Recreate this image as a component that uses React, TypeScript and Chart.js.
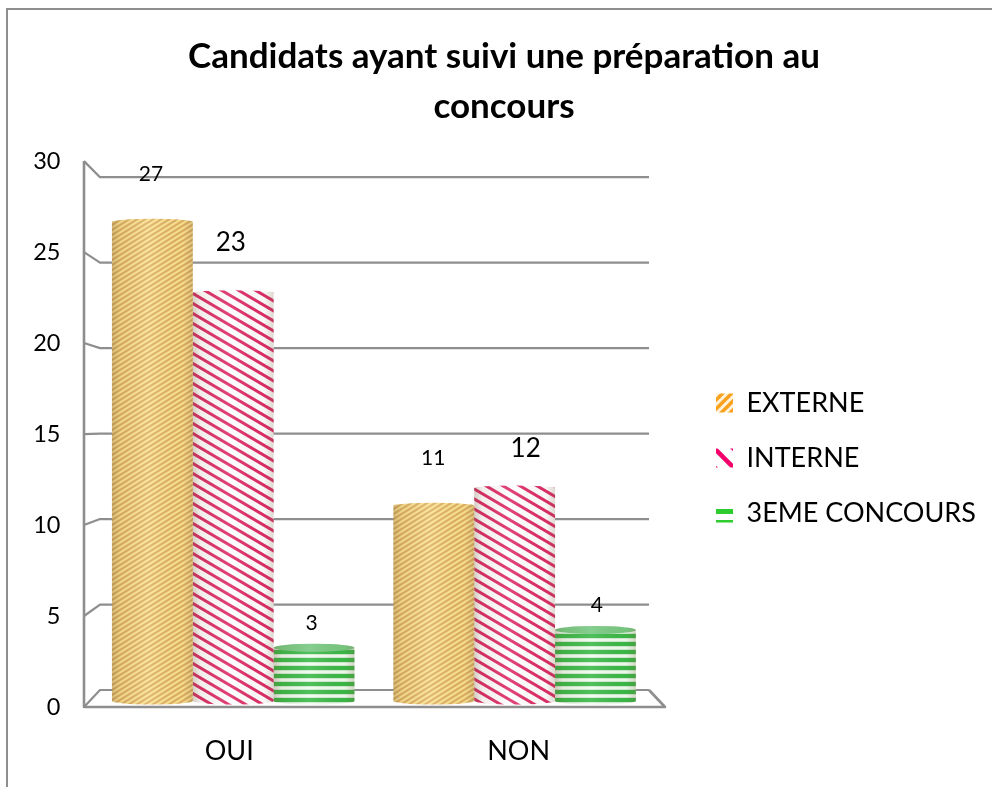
import React, { useEffect, useRef } from "react";
import { Chart, registerables } from "chart.js";

Chart.register(...registerables);

const categories = ["OUI", "NON"];
const externe = [27, 11];
const interne = [23, 12];
const troisieme = [3, 4];
const seriesNames = ["EXTERNE", "INTERNE", "3EME CONCOURS"];
const titleLines = ["Candidats ayant suivi une préparation au", "concours"];
const FONT = "Lato, Carlito, sans-serif";
const GREY = "#8e8e8e";

// per-label display tweaks: [series][category]
const labelShift = [
  [[-1.5, -48], [-0.5, -48]],
  [[-2.5, -50], [11, -39]],
  [[-2.5, -25], [1.5, -25]],
];
const labelSize = [
  [21, 21],
  [26, 26],
  [21, 21],
];

type StripeKind = "up" | "down" | "flat";

function stripes(kind: StripeKind, w: number, h: number, base: string, ink: string, thick: number) {
  const c = document.createElement("canvas");
  c.width = w;
  c.height = h;
  const g = c.getContext("2d")!;
  g.fillStyle = base;
  g.fillRect(0, 0, w, h);
  g.strokeStyle = ink;
  g.lineWidth = thick;
  if (kind === "flat") {
    g.beginPath();
    g.moveTo(0, h / 2);
    g.lineTo(w, h / 2);
    g.stroke();
  } else {
    for (let k = -1; k <= 1; k++) {
      g.beginPath();
      if (kind === "up") {
        g.moveTo(k * w - w, 2 * h);
        g.lineTo(k * w + 2 * w, -h);
      } else {
        g.moveTo(k * w - w, -h);
        g.lineTo(k * w + 2 * w, 2 * h);
      }
      g.stroke();
    }
  }
  return g.createPattern(c, "repeat")!;
}

const App = () => {
  const ref = useRef<HTMLCanvasElement | null>(null);
  useEffect(() => {
    const canvas = ref.current!;
    const ctx0 = canvas.getContext("2d")!;
    const fills = [
      stripes("up", 8, 5, "#fbe28f", "#dcae62", 2),
      stripes("down", 17, 10, "#ffffff", "#dc2a68", 3),
      stripes("flat", 4, 8, "#f2fbf2", "#38b846", 4.4),
    ];
    const legendFills = [
      stripes("up", 9, 9, "#fff3df", "#f9a11b", 3.4),
      stripes("down", 19, 19, "#ffffff", "#f5006a", 4.5),
      stripes("flat", 11, 11, "#ffffff", "#2ecc2e", 5),
    ];
    const capColours = [fills[0], fills[1], "#76c881"];
    const capHeight = [3, 2.5, 4];

    const cylinder = {
      id: "cylinder",
      beforeDraw(chart: any) {
        const { ctx, width, height } = chart;
        ctx.save();
        ctx.fillStyle = "#fff";
        ctx.fillRect(0, 0, width, height);
        ctx.strokeStyle = GREY;
        ctx.lineWidth = 2;
        ctx.beginPath();
        ctx.moveTo(7, height);
        ctx.lineTo(7, 9);
        ctx.lineTo(width, 9);
        ctx.stroke();
        ctx.restore();
      },
      beforeDatasetsDraw(chart: any) {
        const { ctx, scales } = chart;
        const front = scales.y;
        const back = scales.yBack;
        const xFront = 84;
        const xBack = 100;
        const xBackEnd = 649;
        const xFrontEnd = 665;
        ctx.save();
        ctx.strokeStyle = GREY;
        ctx.lineJoin = "round";
        [0, 5, 10, 15, 20, 25, 30].forEach((v) => {
          const yb = back.getPixelForValue(v);
          ctx.lineWidth = 2.2;
          ctx.beginPath();
          ctx.moveTo(xFront, front.getPixelForValue(v));
          ctx.lineTo(xBack, yb);
          ctx.lineTo(xBackEnd, yb);
          ctx.stroke();
        });
        const yF = front.getPixelForValue(0);
        const yB = back.getPixelForValue(0);
        ctx.lineWidth = 2.6;
        ctx.beginPath();
        ctx.moveTo(xFront, front.getPixelForValue(30));
        ctx.lineTo(xFront, yF);
        ctx.lineTo(xFrontEnd, yF);
        ctx.lineTo(xBackEnd, yB);
        ctx.stroke();

        chart.data.datasets.forEach((_: any, i: number) => {
          chart.getDatasetMeta(i).data.forEach((bar: any) => {
            ctx.fillStyle = fills[i];
            ctx.beginPath();
            ctx.ellipse(bar.x, bar.base, bar.width / 2, 3.5, 0, 0, Math.PI * 2);
            ctx.fill();
          });
        });
        ctx.restore();
      },
      afterDatasetsDraw(chart: any) {
        const { ctx } = chart;
        ctx.save();
        chart.data.datasets.forEach((ds: any, i: number) => {
          chart.getDatasetMeta(i).data.forEach((bar: any, j: number) => {
            const l = bar.x - bar.width / 2;
            const r = bar.x + bar.width / 2;
            ctx.fillStyle = capColours[i];
            ctx.beginPath();
            ctx.ellipse(bar.x, bar.y, bar.width / 2, capHeight[i], 0, 0, Math.PI * 2);
            ctx.fill();
            const shade = ctx.createLinearGradient(l, 0, r, 0);
            shade.addColorStop(0, "rgba(120,90,60,0.3)");
            shade.addColorStop(0.1, "rgba(120,90,60,0.1)");
            shade.addColorStop(0.45, "rgba(255,255,255,0.12)");
            shade.addColorStop(0.88, "rgba(120,90,60,0.04)");
            shade.addColorStop(1, "rgba(120,90,60,0.24)");
            ctx.fillStyle = shade;
            ctx.beginPath();
            ctx.moveTo(l, bar.y);
            ctx.ellipse(bar.x, bar.y, bar.width / 2, capHeight[i], 0, Math.PI, Math.PI * 2);
            ctx.lineTo(r, bar.base);
            ctx.ellipse(bar.x, bar.base, bar.width / 2, 3.5, 0, 0, Math.PI);
            ctx.closePath();
            ctx.fill();

            const [dx, dy] = labelShift[i][j];
            ctx.fillStyle = "#000";
            ctx.font = `${labelSize[i][j]}px ${FONT}`;
            ctx.textAlign = "center";
            ctx.textBaseline = "middle";
            ctx.fillText(String(ds.data[j]), bar.x + dx, bar.y + dy);
          });
        });
        ctx.restore();
      },
      afterLayout(chart: any) {
        const lg = chart.legend;
        lg.left = 688;
        lg.right = 992;
        lg.top += 64.5;
        lg.bottom += 64.5;
      },
    };

    const chart = new Chart(ctx0, {
      type: "bar",
      plugins: [cylinder],
      data: {
        labels: categories,
        datasets: [
          { label: seriesNames[0], data: externe, backgroundColor: fills[0], xAxisID: "xBar", yAxisID: "yBar" },
          { label: seriesNames[1], data: interne, backgroundColor: fills[1], xAxisID: "xBar", yAxisID: "yBar" },
          { label: seriesNames[2], data: troisieme, backgroundColor: fills[2], xAxisID: "xBar", yAxisID: "yBar" },
        ],
      },
      options: {
        responsive: false,
        animation: false,
        events: [],
        datasets: { bar: { categoryPercentage: 0.8617, barPercentage: 1, borderWidth: 0 } },
        layout: { padding: { left: 16, right: 0, top: 0, bottom: 0 } },
        plugins: {
          tooltip: { enabled: false },
          title: {
            display: true,
            text: titleLines,
            color: "#000",
            font: { family: FONT, size: 35, weight: "bold", lineHeight: 1.43 },
            padding: { top: 31.5, bottom: 29.5 },
          },
          legend: {
            display: true,
            position: "right",
            labels: {
              color: "#000",
              boxWidth: 17,
              boxHeight: 19,
              padding: 28,
              font: { family: FONT, size: 27 },
              generateLabels: () =>
                seriesNames.map((text, i) => ({
                  text,
                  fillStyle: legendFills[i],
                  strokeStyle: "rgba(0,0,0,0)",
                  lineWidth: 0,
                  datasetIndex: i,
                  hidden: false,
                })),
            },
          },
        },
        scales: {
          y: {
            position: "left",
            min: 0,
            max: 30,
            ticks: { stepSize: 5, color: "#000", padding: 32, font: { family: FONT, size: 23.5 } },
            grid: { display: false, drawTicks: false },
            border: { display: false },
            afterFit: (s: any) => {
              s.width = 76.5;
            },
          },
          yBar: { display: false, min: -0.338, max: 30.42 },
          yBack: {
            position: "right",
            min: -0.994,
            max: 30.94,
            ticks: { display: false },
            grid: { display: false, drawTicks: false },
            border: { display: false },
            afterFit: (s: any) => {
              s.width = 174;
            },
          },
          xBar: { display: false, type: "category", labels: categories },
          x: {
            type: "linear",
            position: "bottom",
            offset: false,
            min: -0.4724,
            max: 1.4724,
            afterBuildTicks: (s: any) => {
              s.ticks = categories.map((_, i) => ({ value: i }));
            },
            ticks: {
              autoSkip: false,
              maxRotation: 0,
              color: "#000",
              padding: 28,
              font: { family: FONT, size: 27 },
              callback: (v: any) => categories[v],
            },
            grid: { display: false, drawTicks: false },
            border: { display: false },
            afterFit: (s: any) => {
              s.height = 80;
            },
          },
        },
      },
    } as any);
    return () => chart.destroy();
  }, []);
  return (
    <div style={{ position: "absolute", left: 0, top: 0, width: 992, height: 787, background: "#fff" }}>
      <canvas ref={ref} width={992} height={787} style={{ display: "block" }} />
    </div>
  );
};

export default App;
